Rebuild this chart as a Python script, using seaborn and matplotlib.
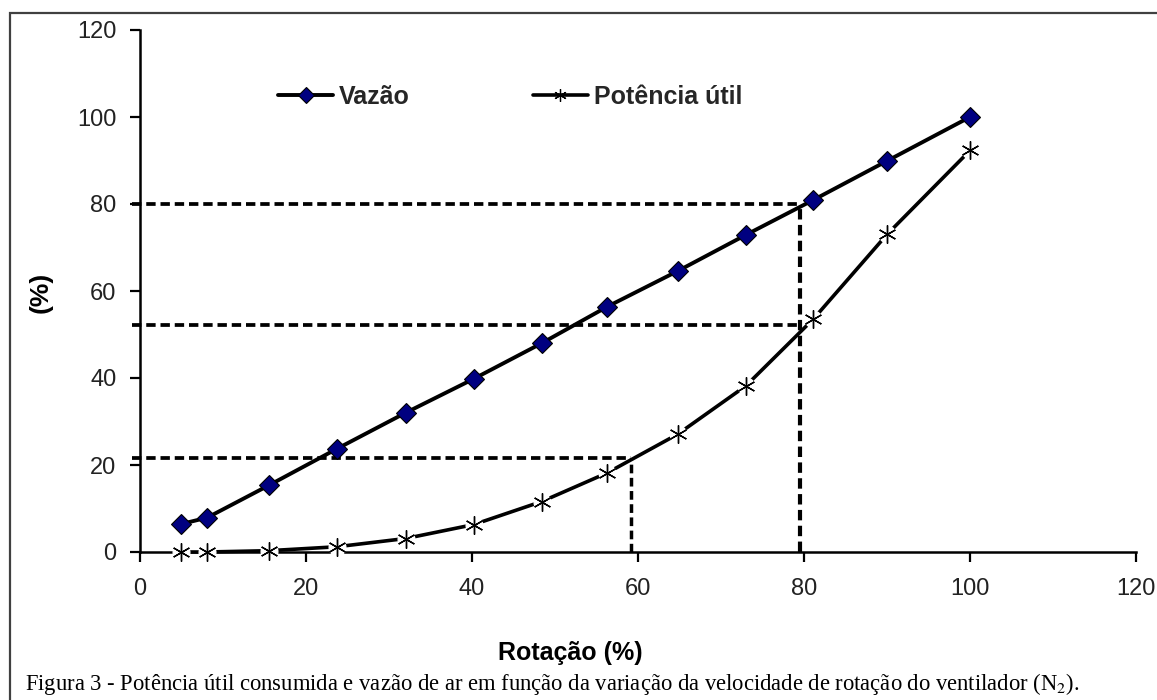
import matplotlib
matplotlib.use("Agg")
import matplotlib.pyplot as plt
import seaborn as sns
import pandas as pd
from matplotlib.lines import Line2D
from matplotlib.patches import Rectangle

# ---- data ----
rotacao = [4.9, 8.1, 15.5, 23.7, 32.0, 40.2, 48.4, 56.3, 64.8, 73.0, 81.1, 90.0, 100.0]
vazao = [6.4, 7.9, 15.3, 23.7, 32.0, 39.8, 48.0, 56.4, 64.6, 72.9, 80.9, 89.9, 100.0]
potencia = [0.0, 0.0, 0.3, 1.2, 3.1, 6.3, 11.6, 18.2, 27.1, 38.2, 53.5, 73.0, 92.3]

# dashed guide lines: (y level, x end) and (x position, y end)
h_guides_y = [80.0, 52.2, 21.6]
h_guides_xend = [79.5, 79.5, 59.2]
v_guides_x = [79.5, 59.2]
v_guides_yend = [80.0, 21.6]

x_ticks = [0, 20, 40, 60, 80, 100, 120]
y_ticks = [0, 20, 40, 60, 80, 100, 120]
series_labels = ["Vazão", "Potência útil"]
x_label = "Rotação (%)"
y_label = "(%)"
caption = ("Figura 3 - Potência útil consumida e vazão de ar em função da variação "
           "da velocidade de rotação do ventilador (N$_{2}$).")

df = pd.DataFrame({"rot": rotacao, "vaz": vazao, "pot": potencia})

sns.set_theme(style="white")
plt.rcParams["font.family"] = ["Liberation Sans", "DejaVu Sans"]
plt.rcParams["mathtext.fontset"] = "stix"

fig = plt.figure(figsize=(11.57, 7.0), dpi=100)
ax = fig.add_axes([140 / 1157, 1 - 552 / 700, 996 / 1157, 522 / 700])

# guide lines
dash = (0, (2.5, 1.3))
for yv, xe in zip(h_guides_y, h_guides_xend):
    ax.plot([-1, xe], [yv, yv], color="black", lw=2.7, ls=dash, zorder=2, clip_on=False)
for xv, ye in zip(v_guides_x, v_guides_yend):
    ax.plot([xv, xv], [0, ye], color="black", lw=3.0 if xv > 70 else 2.5, ls=dash,
            zorder=2, clip_on=False)

# Potência útil
sns.lineplot(data=df, x="rot", y="pot", ax=ax, color="black", linewidth=2.6,
             zorder=3, clip_on=False)
ax.plot(rotacao, potencia, ls="none", marker="o", ms=12, color="white",
        zorder=4, clip_on=False)
ax.plot(rotacao, potencia, ls="none", marker=(6, 2, 0), ms=13, mew=1.0,
        color="black", zorder=5, clip_on=False)

# Vazão
sns.lineplot(data=df, x="rot", y="vaz", ax=ax, color="black", linewidth=2.8,
             marker="D", markersize=10, markerfacecolor="#000080",
             markeredgecolor="black", markeredgewidth=0.8, zorder=6, clip_on=False)

ax.set_xlim(0, 120)
ax.set_ylim(0, 120)
ax.set_xticks(x_ticks)
ax.set_yticks(y_ticks)
ax.set_xticklabels([str(t) for t in x_ticks])
ax.set_yticklabels([str(t) for t in y_ticks])
ax.tick_params(axis="both", direction="out", length=7, width=1.6, color="black",
               labelsize=17, labelcolor="#222222")
ax.tick_params(axis="x", pad=12)
ax.tick_params(axis="y", pad=10)
ax.tick_params(left=True, bottom=True)
for s in ["top", "right"]:
    ax.spines[s].set_visible(False)
for s in ["left", "bottom"]:
    ax.spines[s].set_color("black")
    ax.spines[s].set_linewidth(1.8)
ax.grid(False)

ax.set_xlabel(x_label, fontsize=18, fontweight="bold", color="black")
ax.xaxis.set_label_coords((570 - 140) / 996, (552 - 641) / 522)
ax.set_ylabel(y_label, fontsize=19, fontweight="bold", color="black")
ax.yaxis.set_label_coords((53 - 140) / 996, (552 - 292) / 522)

handles = [
    Line2D([], [], color="black", lw=2.8, marker="D", ms=8,
           markerfacecolor="#000080", markeredgecolor="black", markeredgewidth=0.8),
    Line2D([], [], color="black", lw=2.6, marker=(6, 2, 0), ms=9, mew=0.9),
]
leg = ax.legend(handles, series_labels, ncol=2, loc="center left",
                bbox_to_anchor=((278 - 140) / 996, (552 - 97) / 522),
                frameon=False, borderpad=0, borderaxespad=0,
                handlelength=2.2, handletextpad=0.25, columnspacing=4.9,
                prop={"weight": "bold", "size": 18})

# outer frame
fig.patches.append(Rectangle((10 / 1157, -0.05), 1.2, 1 - 13 / 700 + 0.05,
                             transform=fig.transFigure, fill=False,
                             edgecolor="#404040", lw=1.6, zorder=0))

fig.text(25 / 1157, 1 - 684 / 700, caption, fontsize=16.3, va="center", ha="left",
         family=["Liberation Serif", "DejaVu Serif"], color="black")

fig.savefig("out.png", dpi=100)
